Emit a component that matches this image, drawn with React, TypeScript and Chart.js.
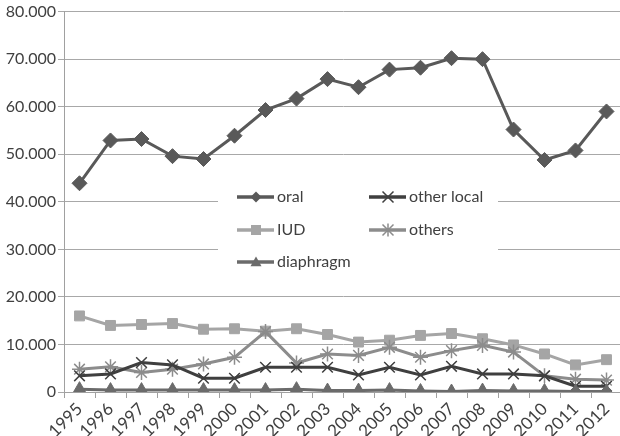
import React, { useEffect, useRef } from "react";
import { Chart, registerables } from "chart.js";

Chart.register(...registerables);

const years = ["1995","1996","1997","1998","1999","2000","2001","2002","2003","2004","2005","2006","2007","2008","2009","2010","2011","2012"];
const oral = [43900,52900,53200,49600,49000,53900,59300,61700,65800,64100,67800,68200,70200,70000,55200,48800,50800,59000];
const otherLocal = [3400,3800,6200,5700,2900,2900,5200,5200,5200,3600,5200,3600,5400,3800,3800,3400,1200,1200];
const iud = [16000,14000,14200,14400,13200,13300,12800,13300,12100,10500,10900,11900,12300,11200,9900,8000,5700,6800];
const others = [4800,5300,4100,4800,5900,7300,12700,6100,8000,7700,9400,7300,8700,9800,8400,3400,2700,2500];
const diaphragm = [600,400,400,400,400,400,400,600,300,300,400,200,100,300,200,200,100,100];
const yTicks = [0,10000,20000,30000,40000,50000,60000,70000,80000];

const FONT = "Lato, 'Open Sans', sans-serif";
const TXT = "#404040";

type Entry = { label: string; color: string; style: string };

function drawMarker(ctx: CanvasRenderingContext2D, style: string, x: number, y: number, r: number, color: string) {
  ctx.save();
  ctx.fillStyle = color;
  ctx.strokeStyle = color;
  ctx.lineWidth = 1.5;
  ctx.beginPath();
  if (style === "rectRot") {
    ctx.moveTo(x, y - r); ctx.lineTo(x + r, y); ctx.lineTo(x, y + r); ctx.lineTo(x - r, y); ctx.closePath(); ctx.fill();
  } else if (style === "rect") {
    ctx.rect(x - r, y - r, 2 * r, 2 * r); ctx.fill();
  } else if (style === "triangle") {
    ctx.moveTo(x, y - r); ctx.lineTo(x + r, y + r * 0.75); ctx.lineTo(x - r, y + r * 0.75); ctx.closePath(); ctx.fill();
  } else if (style === "crossRot") {
    ctx.moveTo(x - r, y - r); ctx.lineTo(x + r, y + r); ctx.moveTo(x + r, y - r); ctx.lineTo(x - r, y + r); ctx.stroke();
  } else if (style === "star") {
    ctx.moveTo(x - r, y - r); ctx.lineTo(x + r, y + r); ctx.moveTo(x + r, y - r); ctx.lineTo(x - r, y + r);
    ctx.moveTo(x, y - r * 1.2); ctx.lineTo(x, y + r * 1.2); ctx.stroke();
  }
  ctx.restore();
}

const legendEntries: Entry[] = [
  { label: "oral", color: "#595959", style: "rectRot" },
  { label: "other local", color: "#3f3f3f", style: "crossRot" },
  { label: "IUD", color: "#a5a5a5", style: "rect" },
  { label: "others", color: "#8c8c8c", style: "star" },
  { label: "diaphragm", color: "#6b6b6b", style: "triangle" },
];

const legendPlugin = {
  id: "boxLegend",
  afterDatasetsDraw(chart: any) {
    const ctx = chart.ctx as CanvasRenderingContext2D;
    ctx.save();
    ctx.fillStyle = "#ffffff";
    ctx.fillRect(218, 180, 280, 100);
    const cols = [237, 369];
    const rows = [197, 230, 262];
    legendEntries.forEach((e, i) => {
      const cx = cols[i % 2];
      const cy = rows[Math.floor(i / 2)];
      ctx.strokeStyle = e.color;
      ctx.lineWidth = 3.5;
      ctx.beginPath();
      ctx.moveTo(cx, cy);
      ctx.lineTo(cx + 37, cy);
      ctx.stroke();
      drawMarker(ctx, e.style, cx + 19, cy, e.style === "rect" ? 5 : 5.5, e.color);
      ctx.fillStyle = TXT;
      ctx.font = `16px ${FONT}`;
      ctx.textBaseline = "middle";
      ctx.textAlign = "left";
      ctx.fillText(e.label, cx + 40, cy);
    });
    ctx.restore();
  },
};

export default function App() {
  const ref = useRef<HTMLCanvasElement>(null);
  useEffect(() => {
    document.body.style.margin = "0";
    document.body.style.overflow = "hidden";
    const mk = (label: string, data: number[], color: string, style: string, r: number, bw: number) => ({
      label, data,
      borderColor: color, backgroundColor: color,
      pointBackgroundColor: color, pointBorderColor: color,
      pointStyle: style, pointRadius: r, pointBorderWidth: bw,
      borderWidth: 3, tension: 0,
    });
    const chart = new Chart(ref.current!, {
      type: "line",
      data: {
        labels: years,
        datasets: [
          mk("diaphragm", diaphragm, "#6b6b6b", "triangle", 7.5, 1),
          mk("other local", otherLocal, "#3f3f3f", "crossRot", 7.5, 1.5),
          mk("others", others, "#8c8c8c", "star", 7.5, 1.5),
          mk("IUD", iud, "#a5a5a5", "rect", 7, 1),
          mk("oral", oral, "#595959", "rectRot", 7.5, 1),
        ],
      },
      options: {
        animation: false,
        responsive: false,
        layout: { padding: { top: 11.4, right: 0, left: 0, bottom: 0 } },
        plugins: { legend: { display: false }, tooltip: { enabled: false } },
        scales: {
          x: {
            offset: true,
            grid: { offset: true, drawOnChartArea: false, drawTicks: true, tickLength: 6, color: "#a0a0a0" },
            border: { color: "#a0a0a0", width: 1 },
            ticks: { color: TXT, font: { family: FONT, size: 17 }, maxRotation: 45, minRotation: 45, padding: 1, autoSkip: false },
            afterFit: (s: any) => { s.height = 436 - 392; },
          },
          y: {
            min: 0, max: 80000,
            afterBuildTicks: (s: any) => { s.ticks = yTicks.map((v) => ({ value: v })); },
            grid: { color: "#a8a8a8", lineWidth: 1, drawTicks: true, tickLength: 6 },
            border: { color: "#a0a0a0", width: 1 },
            ticks: {
              color: TXT, font: { family: FONT, size: 16 }, padding: 2,
              callback: (v: any) => (v === 0 ? "0" : `${Math.round(v / 1000)}.000`),
            },
            afterFit: (s: any) => { s.width = 64; },
          },
        },
      },
      plugins: [legendPlugin],
    });
    return () => chart.destroy();
  }, []);
  return (
    <div style={{ width: 620, height: 436, overflow: "hidden" }}>
      <canvas ref={ref} width={631} height={436} style={{ display: "block" }} />
    </div>
  );
}
